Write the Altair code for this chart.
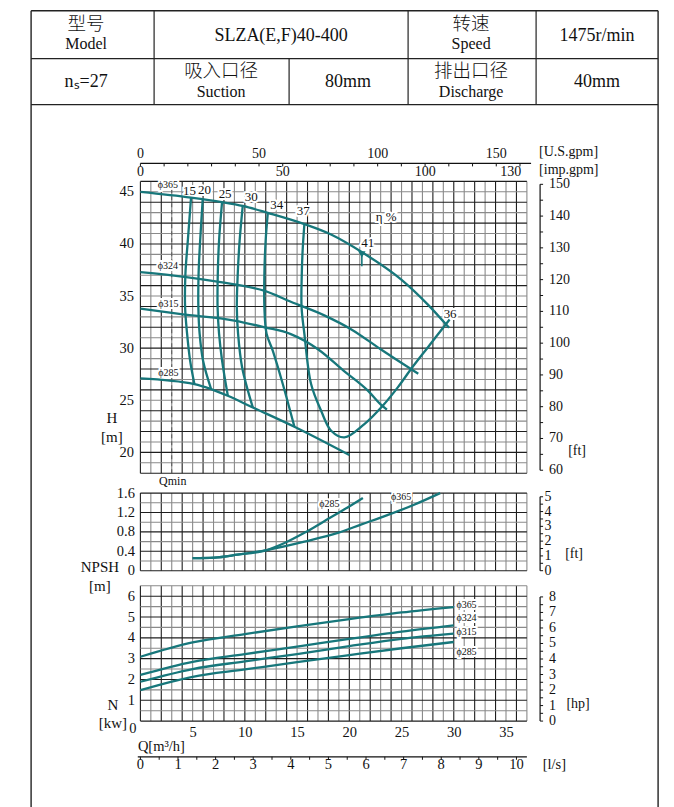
import altair as alt
import pandas as pd

# ---------------- chart values ----------------
# Head H [m] vs flow Q [m3/h] for four impeller diameters
hq_q_365 = [0, 4.85, 7.8, 9.8, 12.2, 15.7, 18.25, 21.3, 24.95, 27.5, 29.55]
hq_h_365 = [45.0, 44.45, 44.02, 43.65, 42.98, 41.9, 40.9, 39.15, 36.6, 34.2, 31.95]
hq_q_324 = [0, 4.2, 9.0, 11.9, 14.4, 17.6, 20.2, 23.0, 25.9, 26.6]
hq_h_324 = [37.3, 36.85, 36.12, 35.5, 34.45, 33.15, 31.8, 29.9, 28.0, 27.55]
hq_q_315 = [0, 3.9, 9.0, 11.9, 14.4, 17.0, 19.5, 21.8, 23.0, 23.6]
hq_h_315 = [33.8, 33.26, 32.65, 32.0, 31.35, 29.9, 27.8, 25.9, 24.6, 24.1]
hq_q_285 = [0, 5.17, 6.77, 8.36, 10.76, 14.74, 20.0]
hq_h_285 = [27.1, 26.55, 26.07, 25.43, 24.31, 22.46, 19.75]

# iso-efficiency curves (Q, H)
eff_q_15 = [4.85, 4.54, 4.31, 4.28, 4.47, 4.76, 5.17]
eff_h_15 = [44.46, 40.31, 37.14, 33.91, 31.39, 28.8, 26.56]
eff_q_20 = [5.97, 5.72, 5.57, 5.55, 5.67, 6.0, 6.77]
eff_h_20 = [44.34, 40.31, 37.14, 33.91, 31.39, 28.8, 26.08]
eff_q_25 = [7.82, 7.53, 7.41, 7.39, 7.53, 7.82, 8.37]
eff_h_25 = [44.05, 40.31, 37.14, 33.91, 31.39, 28.8, 25.44]
eff_q_30 = [9.8, 9.5, 9.32, 9.23, 9.35, 9.74, 10.76]
eff_h_30 = [43.67, 40.31, 37.14, 33.91, 31.39, 28.15, 24.32]
eff_q_34 = [12.2, 11.99, 11.87, 11.87, 12.08, 12.67, 13.63, 14.74]
eff_h_34 = [43.0, 40.31, 37.14, 33.91, 31.39, 29.76, 26.56, 22.47]
eff_q_37 = [15.7, 15.53, 15.45, 15.43, 15.7, 16.34, 17.3, 18.26, 19.53, 21.44, 23.2, 24.64, 25.91, 27.51, 29.6]
eff_h_37 = [41.91, 39.35, 37.14, 33.91, 31.36, 26.56, 24.0, 22.08, 21.44, 22.72, 24.48, 26.24, 28.0, 30.07, 32.75]

# curve labels on the head chart
h_label_text = ["\u03d5365", "\u03d5324", "\u03d5315", "\u03d5285"]
h_label_q = [2.62, 2.62, 2.68, 2.68]
h_label_h = [45.62, 37.84, 34.24, 27.62]
eff_label_text = ["15", "20", "25", "30", "34", "37", "\u03b7 %", "41", "36"]
eff_label_q = [4.69, 6.13, 8.11, 10.6, 13.06, 15.6, 23.52, 21.77, 29.65]
eff_label_h = [45.11, 45.17, 44.79, 44.46, 43.74, 43.12, 42.55, 40.09, 33.28]
bep_q, bep_h = 21.2, 39.0
qmin = 3.0

# NPSH [m]
np_q_365 = [5.0, 7.1, 9.3, 12.2, 15.7, 18.9, 21.1, 23.7, 26.2, 28.7]
np_v_365 = [0.26, 0.27, 0.33, 0.43, 0.60, 0.78, 0.95, 1.15, 1.36, 1.6]
np_q_285 = [5.0, 7.1, 9.3, 12.2, 13.8, 15.7, 17.6, 19.5, 21.3]
np_v_285 = [0.26, 0.27, 0.33, 0.43, 0.57, 0.78, 1.02, 1.26, 1.5]
np_label_text = ["\u03d5285", "\u03d5365"]
np_label_q = [18.1, 24.95]
np_label_v = [1.37, 1.51]

# Power N [kW]
pw_q = [0, 5, 10, 15, 20, 25, 30]
pw_365 = [3.09, 3.78, 4.18, 4.55, 4.9, 5.22, 5.48]
pw_324 = [2.22, 2.85, 3.22, 3.58, 3.95, 4.3, 4.6]
pw_315 = [1.89, 2.5, 2.87, 3.22, 3.6, 3.95, 4.2]
pw_285 = [1.49, 2.13, 2.48, 2.83, 3.17, 3.5, 3.8]
pw_label_text = ["\u03d5365", "\u03d5324", "\u03d5315", "\u03d5285"]
pw_label_kw = [5.6, 4.96, 4.29, 3.33]
pw_label_q = 30.25

# header table
table_cjk = ["型号", "转速", "吸入口径", "排出口径"]
table_latin = ["Model", "SLZA(E,F)40-400", "Speed", "1475r/min",
               "n\u209b=27", "Suction", "80mm", "Discharge", "40mm"]

# unit conversions for secondary axes (secondary unit per primary unit)
USGPM, IMPGPM, FT, HP_PER_KW, LPS = 4.4029, 3.6662, 3.28084, 1 / 0.7457, 3.6

# ---------------- layout ----------------
TEAL = "#17777b"
FONT = "Liberation Serif"
CJK = "Noto Sans CJK SC"
OX, OY = 139.3, 180.7          # page position of head plot origin (frame decoration)
W = 386.5
QMAX = 37
H_HT = 296.3
H_DOM = [17.573, 46]
NP_HT = 77.6
PW_HT = 135.3
SPACE = 14.7

xs = alt.Scale(domain=[0, QMAX], nice=False, zero=False)


def yaxis(values, title, tx, ty, lh, expr=None, pad=7):
    kw = dict(values=values, domain=False, ticks=False, grid=False, labelOverlap=False,
              labelPadding=pad, labelFontSize=14.5, labelFont=FONT, labelColor="#111",
              title=title, titleAngle=0, titleX=tx, titleY=ty, titleAlign="center",
              titleBaseline="alphabetic", titleFont=FONT, titleFontSize=15,
              titleFontWeight="normal", titleLineHeight=lh, titleColor="#111")
    if expr:
        kw["labelExpr"] = expr
    return alt.Axis(**kw)


def series_df(pairs):
    rows = []
    for name, qs, ys in pairs:
        for i, (q, y) in enumerate(zip(qs, ys)):
            rows.append({"s": name, "q": q, "v": y, "i": i})
    return pd.DataFrame(rows)


class Panel:
    def __init__(self, ys, yax, xax):
        self.ys, self.yax, self.xax = ys, yax, xax
        self.layers = []

    def X(self, f):
        return alt.X(f, scale=xs, axis=self.xax)

    def Y(self, f):
        return alt.Y(f, scale=self.ys, axis=self.yax)

    def add(self, c):
        self.layers.append(c)

    def grid(self, ymin, ymax, ystep):
        vq = list(range(0, QMAX + 1))
        v = pd.DataFrame({"q": vq, "a": ymin, "b": ymax,
                          "c": ["#1e1e1e" if k % 2 == 0 else "#8a8a8a" for k in vq]})
        n = int(round((ymax - ymin) / ystep))
        hv = [ymin + k * ystep for k in range(n + 1)]
        h = pd.DataFrame({"v": hv, "a": 0, "b": QMAX,
                          "c": ["#1e1e1e" if k % 2 == 0 else "#8a8a8a" for k in range(n + 1)]})
        self.add(alt.Chart(v).mark_rule(strokeWidth=1.1).encode(
            x=self.X("q:Q"), y=self.Y("a:Q"), y2="b:Q", color=alt.Color("c:N", scale=None)))
        self.add(alt.Chart(h).mark_rule(strokeWidth=1.1).encode(
            y=self.Y("v:Q"), x=self.X("a:Q"), x2="b:Q", color=alt.Color("c:N", scale=None)))

    def halo_text(self, df, size, align="center"):
        base = alt.Chart(df).encode(x=self.X("q:Q"), y=self.Y("v:Q"), text="t:N")
        self.add(base.mark_text(font=FONT, fontSize=size, align=align, baseline="middle",
                                stroke="white", strokeWidth=4, color="white"))
        self.add(base.mark_text(font=FONT, fontSize=size, align=align, baseline="middle",
                                color="#111"))

    def lines(self, df, interp):
        self.add(alt.Chart(df).mark_line(color=TEAL, strokeWidth=2.3, interpolate=interp).encode(
            x=self.X("q:Q"), y=self.Y("v:Q"), detail="s:N", order="i:Q"))

    def right_axis(self, values, conv, label_every, label_x, unit, unit_xy, lo, hi):
        df = pd.DataFrame({"u": values})
        df["v"] = df["u"] / conv
        lab = df[[abs(u / label_every - round(u / label_every)) < 1e-9 for u in df["u"]]].copy()
        lab["t"] = [f"{u:g}" for u in lab["u"]]
        line = pd.DataFrame({"a": [lo / conv], "b": [hi / conv]})
        self.add(alt.Chart(line).mark_rule(color="#111", strokeWidth=1.2).encode(
            x=alt.value(399.7), y=self.Y("a:Q"), y2="b:Q"))
        self.add(alt.Chart(df).mark_rule(color="#111", strokeWidth=1).encode(
            x=alt.value(399.7), x2=alt.value(402.7), y=self.Y("v:Q")))
        self.add(alt.Chart(lab).mark_text(font=FONT, fontSize=14, align="left", baseline="middle",
                                          color="#111").encode(
            x=alt.value(label_x), y=self.Y("v:Q"), text="t:N"))
        self.add(alt.Chart(pd.DataFrame({"t": [unit]})).mark_text(
            font=FONT, fontSize=14, align="center", baseline="middle", color="#111").encode(
            x=alt.value(unit_xy[0]), y=alt.value(unit_xy[1]), text="t:N"))

    def chart(self, h):
        return alt.layer(*self.layers).properties(width=W, height=h)


# ================= head chart =================
ys_h = alt.Scale(domain=H_DOM, nice=False, zero=False)
hp_ = Panel(ys_h, yaxis([20, 25, 30, 35, 40, 45], ["H", "[m]"], -29, 241.5, 19), None)
hp_.grid(18, 46, 1)

qmin_df = pd.DataFrame({"q": [qmin], "a": [18], "b": [46]})
hp_.add(alt.Chart(qmin_df).mark_rule(color="#555", strokeWidth=1, strokeDash=[4, 3]).encode(
    x=hp_.X("q:Q"), y=hp_.Y("a:Q"), y2="b:Q"))

hp_.halo_text(pd.DataFrame({"t": h_label_text, "q": h_label_q, "v": h_label_h}), 10)
hp_.halo_text(pd.DataFrame({"t": eff_label_text, "q": eff_label_q, "v": eff_label_h}), 13)

hq = series_df([("365", hq_q_365, hq_h_365), ("324", hq_q_324, hq_h_324),
                ("315", hq_q_315, hq_h_315), ("285", hq_q_285, hq_h_285)])
hp_.lines(hq, "monotone")
eff = series_df([("15", eff_q_15, eff_h_15), ("20", eff_q_20, eff_h_20), ("25", eff_q_25, eff_h_25),
                 ("30", eff_q_30, eff_h_30), ("34", eff_q_34, eff_h_34), ("37", eff_q_37, eff_h_37)])
hp_.lines(eff, "catmull-rom")

bep = pd.DataFrame({"q": [bep_q], "v": [bep_h], "b": [bep_h - 1.15]})
hp_.add(alt.Chart(bep).mark_rule(color=TEAL, strokeWidth=1.6).encode(
    x=hp_.X("q:Q"), y=hp_.Y("v:Q"), y2="b:Q"))
hp_.add(alt.Chart(bep).mark_point(shape="triangle-down", filled=True, size=55,
                                  color=TEAL, opacity=1).encode(x=hp_.X("q:Q"), y=hp_.Y("v:Q")))

hp_.add(alt.Chart(pd.DataFrame({"t": ["Qmin"], "q": [qmin + 0.1], "v": [17.28]})).mark_text(
    font=FONT, fontSize=12, baseline="middle", color="#111").encode(
    x=hp_.X("q:Q"), y=hp_.Y("v:Q"), text="t:N"))

hp_.right_axis(list(range(60, 151, 5)), FT, 10, 408.5, "[ft]", (436.7, 269.3), 60, 150)

# top flow axes (U.S.gpm / imp.gpm)
top_line = pd.DataFrame({"a": [0], "b": [37.4]})
hp_.add(alt.Chart(top_line).mark_rule(color="#111", strokeWidth=1.2).encode(
    x=hp_.X("a:Q"), x2="b:Q", y=alt.value(-18)))
us_ticks = pd.DataFrame({"g": list(range(0, 161, 10))})
us_ticks["q"] = us_ticks["g"] / USGPM
hp_.add(alt.Chart(us_ticks).mark_rule(color="#111", strokeWidth=1).encode(
    x=hp_.X("q:Q"), y=alt.value(-18), y2=alt.value(-15)))
us_lab = pd.DataFrame({"g": [0, 50, 100, 150]})
us_lab["q"] = us_lab["g"] / USGPM
us_lab["t"] = us_lab["g"].astype(str)
hp_.add(alt.Chart(us_lab).mark_text(font=FONT, fontSize=14, baseline="middle", color="#111").encode(
    x=hp_.X("q:Q"), y=alt.value(-27.5), text="t:N"))
imp_lab = pd.DataFrame({"g": [0, 50, 100, 130]})
imp_lab["q"] = imp_lab["g"] / IMPGPM
imp_lab["t"] = imp_lab["g"].astype(str)
hp_.add(alt.Chart(imp_lab).mark_text(font=FONT, fontSize=14, baseline="middle", color="#111").encode(
    x=hp_.X("q:Q"), y=alt.value(-9), text="t:N"))
hp_.add(alt.Chart(pd.DataFrame({"t": ["[U.S.gpm]", "[imp.gpm]"], "yy": [-29.5, -11]})).mark_text(
    font=FONT, fontSize=14, align="left", baseline="middle", color="#111").encode(
    x=alt.value(398.7), y=alt.Y("yy:Q", scale=None), text="t:N"))

# header table and page frame (decoration, page pixel positions)
frame_h = pd.DataFrame({"x1": [30, 30, 30], "x2": [657, 657, 657], "y": [10, 58, 104],
                        "w": [1.4, 1.2, 1.2]})
frame_v = pd.DataFrame({"x": [30, 657, 153, 407, 535, 288],
                        "y1": [10, 10, 10, 10, 10, 58], "y2": [807, 807, 104, 104, 104, 104],
                        "w": [1.4, 1.4, 1.2, 1.2, 1.2, 1.2]})
for df, cols in ((frame_h, ["x1", "x2", "y"]), (frame_v, ["x", "y1", "y2"])):
    for c in cols:
        df[c] = df[c] - (OX if c.startswith("x") else OY)
hp_.add(alt.Chart(frame_h).mark_rule(color="#222").encode(
    x=alt.X("x1:Q", scale=None), x2="x2:Q", y=alt.Y("y:Q", scale=None),
    strokeWidth=alt.StrokeWidth("w:Q", scale=None)))
hp_.add(alt.Chart(frame_v).mark_rule(color="#222").encode(
    x=alt.X("x:Q", scale=None), y=alt.Y("y1:Q", scale=None), y2="y2:Q",
    strokeWidth=alt.StrokeWidth("w:Q", scale=None)))
tab_c = pd.DataFrame({"t": table_cjk, "x": [85, 470, 220, 470], "y": [23, 23, 70, 70]})
tab_l = pd.DataFrame({
    "t": table_latin,
    "x": [85, 280, 470, 596, 85, 220, 347, 470, 596],
    "y": [43, 35, 43, 35, 81, 91, 81, 91, 81],
    "f": [16, 18, 16, 18, 18, 16, 18, 16, 18],
})
for df in (tab_c, tab_l):
    df["x"] = df["x"] - OX
    df["y"] = df["y"] - OY
hp_.add(alt.Chart(tab_c).mark_text(font=CJK, fontWeight=300, fontSize=18.5, baseline="middle",
                                   color="#111").encode(
    x=alt.X("x:Q", scale=None), y=alt.Y("y:Q", scale=None), text="t:N"))
hp_.add(alt.Chart(tab_l).mark_text(font=FONT, baseline="middle", color="#111").encode(
    x=alt.X("x:Q", scale=None), y=alt.Y("y:Q", scale=None), text="t:N",
    size=alt.Size("f:Q", scale=None)))

head = hp_.chart(H_HT)

# ================= NPSH chart =================
ys_n = alt.Scale(domain=[0, 1.6], nice=False, zero=False)
np_ = Panel(ys_n, yaxis([0, 0.4, 0.8, 1.2, 1.6], ["NPSH", "[m]"], -41, 78.5, 19,
                        expr="datum.value == 0 ? '0' : format(datum.value, '.1f')", pad=6), None)
np_.grid(0, 1.6, 0.2)
np_.halo_text(pd.DataFrame({"t": np_label_text, "q": np_label_q, "v": np_label_v}), 10)
np_.lines(series_df([("365", np_q_365, np_v_365), ("285", np_q_285, np_v_285)]), "monotone")
np_.right_axis([k * 0.5 for k in range(11)], FT, 1, 404, "[ft]", (433.7, 61.3), 0, 5)
npsh = np_.chart(NP_HT)

# ================= power chart =================
ys_p = alt.Scale(domain=[0, 6.5], nice=False, zero=False)
xax_p = alt.Axis(values=[5, 10, 15, 20, 25, 30, 35], domain=False, ticks=False, grid=False,
                 labelOverlap=False, labelPadding=4, labelFontSize=14.5, labelFont=FONT,
                 labelColor="#111", title=None)
pp_ = Panel(ys_p, yaxis([1, 2, 3, 4, 5, 6], ["N", "[kw]"], -28, 124, 18, pad=6), xax_p)
pp_.grid(0, 6.5, 0.5)
pp_.halo_text(pd.DataFrame({"t": pw_label_text, "q": pw_label_q, "v": pw_label_kw}), 10, align="left")
pp_.lines(series_df([("365", pw_q, pw_365), ("324", pw_q, pw_324),
                     ("315", pw_q, pw_315), ("285", pw_q, pw_285)]), "monotone")
pp_.add(alt.Chart(pd.DataFrame({"t": ["0"], "q": [0], "v": [0]})).mark_text(
    font=FONT, fontSize=14.5, baseline="middle", dx=-7.5, dy=8, color="#111").encode(
    x=pp_.X("q:Q"), y=pp_.Y("v:Q"), text="t:N"))
pp_.right_axis([k * 0.5 for k in range(17)], HP_PER_KW, 1, 408.5, "[hp]", (437.7, 118), 0, 8)

# Q label and l/s axis
pp_.add(alt.Chart(pd.DataFrame({"t": ["Q[m\u00b3/h]"]})).mark_text(
    font=FONT, fontSize=14.5, align="left", baseline="middle", color="#111").encode(
    x=alt.value(-2.5), y=alt.value(161), text="t:N"))
ls_line = pd.DataFrame({"a": [-0.25], "b": [QMAX]})
pp_.add(alt.Chart(ls_line).mark_rule(color="#111", strokeWidth=1.2).encode(
    x=pp_.X("a:Q"), x2="b:Q", y=alt.value(171)))
ls_ticks = pd.DataFrame({"l": [k * 0.5 for k in range(21)]})
ls_ticks["q"] = ls_ticks["l"] * LPS
pp_.add(alt.Chart(ls_ticks).mark_rule(color="#111", strokeWidth=1).encode(
    x=pp_.X("q:Q"), y=alt.value(171), y2=alt.value(174)))
ls_lab = pd.DataFrame({"l": list(range(0, 11))})
ls_lab["q"] = ls_lab["l"] * LPS
ls_lab["t"] = ls_lab["l"].astype(str)
pp_.add(alt.Chart(ls_lab).mark_text(font=FONT, fontSize=14.5, baseline="middle", color="#111").encode(
    x=pp_.X("q:Q"), y=alt.value(179), text="t:N"))
pp_.add(alt.Chart(pd.DataFrame({"t": ["[l/s]"]})).mark_text(
    font=FONT, fontSize=14.5, align="center", baseline="middle", color="#111").encode(
    x=alt.value(414), y=alt.value(179), text="t:N"))

power = pp_.chart(PW_HT)

chart = alt.vconcat(head, npsh, power, spacing=SPACE, bounds="flush").properties(
    padding={"left": 21.4, "top": 1.4, "right": 5, "bottom": 0},
    background="white",
).configure_view(stroke=None).configure_axis(labelFont=FONT)

chart.save("out.html", embed_options={"renderer": "svg", "actions": False})
